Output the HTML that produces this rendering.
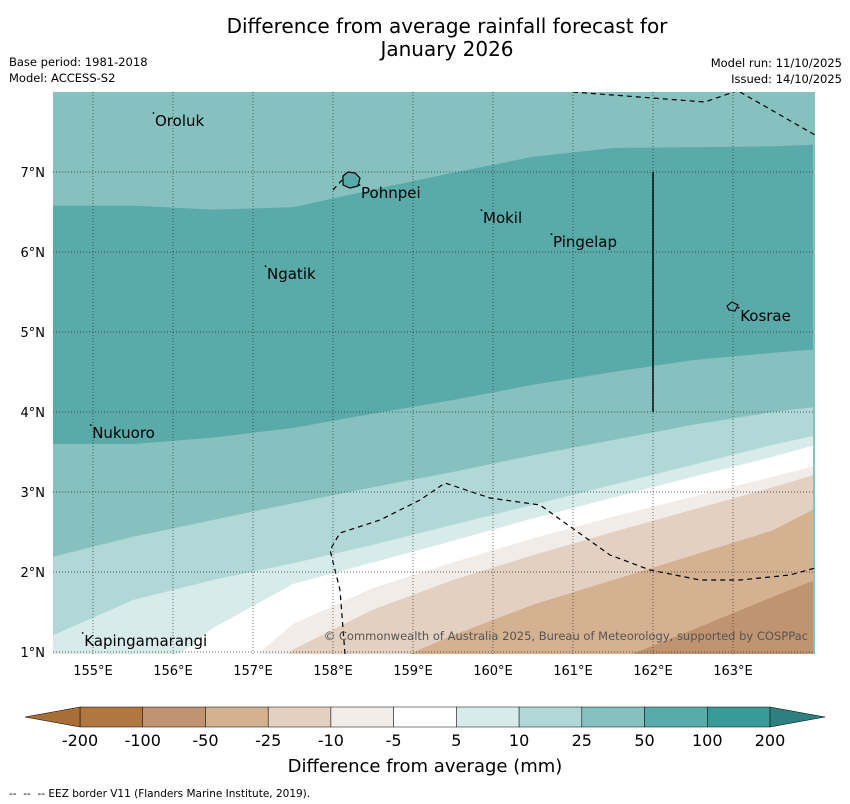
<!DOCTYPE html>
<html><head><meta charset="utf-8">
<style>
body{margin:0;background:#fff;font-family:"DejaVu Sans","Liberation Sans",sans-serif;}
#wrap{position:relative;width:850px;height:804px;overflow:hidden;}
svg text{font-family:"DejaVu Sans","Liberation Sans",sans-serif;}
</style></head>
<body>
<div id="wrap">
<svg id="svg" width="850" height="804" xmlns="http://www.w3.org/2000/svg">
<text x="447" y="33" text-anchor="middle" font-size="20" fill="#000">Difference from average rainfall forecast for</text>
<text x="447" y="56" text-anchor="middle" font-size="20" fill="#000">January 2026</text>
<text x="9" y="66" font-size="11.5">Base period: 1981-2018</text>
<text x="9" y="82" font-size="11.5">Model: ACCESS-S2</text>
<text x="842" y="67" font-size="11.5" text-anchor="end">Model run: 11/10/2025</text>
<text x="842" y="83" font-size="11.5" text-anchor="end">Issued: 14/10/2025</text>
<defs><clipPath id="mapclip"><rect x="53" y="92" width="762" height="562"/></clipPath></defs>
<g id="map" clip-path="url(#mapclip)"></g>
<g id="grid"></g>
<g id="labels"></g>
<g id="cbar"></g>
<text x="425" y="772" text-anchor="middle" font-size="18">Difference from average (mm)</text>
<text x="9" y="797" font-size="10.5">-- &#160;-- &#160;-- EEZ border V11 (Flanders Marine Institute, 2019).</text>
</svg>
</div>
<script>
const lonGrid=[154.5,155.5,156.5,157.5,158.5,159.5,160.5,161.5,162.5,163.5,164];
const contour1=[6.58,6.58,6.53,6.56,6.78,6.99,7.19,7.30,7.31,7.32,7.34];
const contour2=[3.60,3.60,3.68,3.80,3.98,4.15,4.34,4.50,4.65,4.74,4.78];
const contour3=[2.19,2.44,2.65,2.86,3.06,3.25,3.46,3.65,3.84,4.00,4.06];
const contour4=[1.21,1.65,1.90,2.11,2.34,2.59,2.84,3.09,3.34,3.59,3.70];
const contour5=[0.40,0.53,1.30,1.85,2.12,2.39,2.67,2.93,3.19,3.44,3.58];
const contour6=[0.00,0.10,0.50,1.35,1.80,2.12,2.42,2.69,2.94,3.19,3.32];
const contour7=[0.00,0.00,0.15,1.03,1.53,1.90,2.21,2.50,2.78,3.06,3.21];
const contour8=[0.00,0.00,0.00,0.15,0.78,1.21,1.59,1.90,2.21,2.52,2.78];
const contour9=[0.00,0.00,0.00,0.00,0.00,0.00,0.00,0.88,1.28,1.69,1.89];
const bandColors=["#86c1c0","#5aaaaa","#86c1c0","#b0d8d7","#d7ebea","#ffffff","#f1ece8","#e3d0c0","#d3b191","#c09470"];
const cbLevels=["-200","-100","-50","-25","-10","-5","5","10","25","50","100","200"];
const cbColors=["#b07840","#c09470","#d3b191","#e3d0c0","#f1ece8","#ffffff","#d7ebea","#b0d8d7","#86c1c0","#5aaaaa","#3a9a9a"];
const lonTicks=[155,156,157,158,159,160,161,162,163];
const latTicks=[1,2,3,4,5,6,7];
const placeNames=["Oroluk","Pohnpei","Mokil","Pingelap","Ngatik","Kosrae","Nukuoro","Kapingamarangi"];
const placeLon=[155.775,158.35,159.875,160.75,157.175,163.09,154.99,154.89];
const placeLat=[7.575,6.675,6.36,6.06,5.66,5.14,3.675,1.075];
const NS="http://www.w3.org/2000/svg";
const X=lon=>53+(lon-154.5)*80;
const Y=lat=>92+(8-lat)*80;
function mk(tag,attrs,parent){const e=document.createElementNS(NS,tag);for(const k in attrs)e.setAttribute(k,attrs[k]);parent.appendChild(e);return e;}
const map=document.getElementById('map');
let bg=mk('rect',{x:53,y:92,width:762,height:562,fill:bandColors[0]},map);


const contours=[contour1,contour2,contour3,contour4,contour5,contour6,contour7,contour8,contour9];
contours.forEach((c,i)=>{
  let pts=lonGrid.map((lon,j)=>X(lon)+','+Y(c[j]));
  pts.push(X(164)+','+Y(-1));pts.push(X(154.5)+','+Y(-1));
  const p=mk('polygon',{points:pts.join(' '),fill:bandColors[i+1]},map);
  
  
});
const eez=["M573,92 L705,102 L745,88","M740,92 L815,135","M345,654 L340,590 L330,550 L340,533 L380,520 L420,500 L445,483 L490,498 L540,505 L575,530 L610,555 L650,570 L700,580 L740,580 L790,575 L815,568","M333,190 L342,180"];
eez.forEach((d,i)=>{const p=mk('path',{d:d,fill:'none',stroke:'#000','stroke-width':1.2,'stroke-dasharray':'5,4'},map);

});
const vl=mk('line',{x1:X(162),x2:X(162),y1:Y(7),y2:Y(4),stroke:'#000','stroke-width':1.5},map);


const pn=mk('path',{d:'M343,176 L348,172 L355,173 L360,178 L358,186 L350,188 L343,185 Z',fill:'#5aaaaa',stroke:'#000','stroke-width':1.2},map);


const ks=mk('path',{d:'M727,306 L732,302 L738,305 L735,311 L729,310 Z',fill:'#5aaaaa',stroke:'#000','stroke-width':1.1},map);


const grid=document.getElementById('grid');
lonTicks.forEach(l=>{
  const g=mk('line',{x1:X(l),x2:X(l),y1:92,y2:654,stroke:'#333','stroke-width':0.7,'stroke-dasharray':'1,2'},grid);
  
  
  const t=mk('text',{x:X(l),y:675,'text-anchor':'middle','font-size':13},grid);t.textContent=l+'°E';
  
  
});
latTicks.forEach(l=>{
  const g=mk('line',{x1:53,x2:815,y1:Y(l),y2:Y(l),stroke:'#333','stroke-width':0.7,'stroke-dasharray':'1,2'},grid);
  
  
  const t=mk('text',{x:45,y:Y(l)+5,'text-anchor':'end','font-size':13},grid);t.textContent=l+'°N';
  
  
});
const lab=document.getElementById('labels');
placeNames.forEach((n,i)=>{
  const t=mk('text',{x:X(placeLon[i]),y:Y(placeLat[i]),'font-size':15,fill:'#000'},lab);t.textContent=n;
  
  
  const d=mk('circle',{cx:X(placeLon[i])-1.5,cy:Y(placeLat[i])-13,r:0.9,fill:'#000'},lab);
  
  
});
const cr=mk('text',{x:808,y:640,'text-anchor':'end','font-size':11.5,fill:'#555'},lab);
cr.textContent='© Commonwealth of Australia 2025, Bureau of Meteorology, supported by COSPPac';


const cb=document.getElementById('cbar');
const cx0=80,cw=690/cbColors.length,cy=707,ch=20;
cbColors.forEach((c,i)=>{
  const r=mk('rect',{x:cx0+i*cw,y:cy,width:cw,height:ch,fill:c,stroke:'#000','stroke-width':0.5},cb);
  
  
});
const tl=mk('polygon',{points:`${cx0},${cy} 25,${cy+ch/2} ${cx0},${cy+ch}`,fill:'#a86e38',stroke:'#000','stroke-width':0.5},cb);


const tr=mk('polygon',{points:`770,${cy} 825,${cy+ch/2} 770,${cy+ch}`,fill:'#2e8080',stroke:'#000','stroke-width':0.5},cb);


cbLevels.forEach((v,i)=>{
  const t=mk('text',{x:cx0+i*cw,y:746,'text-anchor':'middle','font-size':16},cb);t.textContent=v;
  
  
});
</script>
</body></html>
